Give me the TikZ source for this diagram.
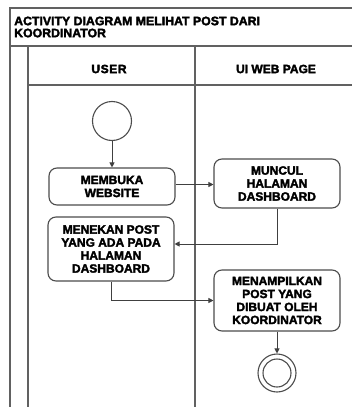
\documentclass[tikz,border=0pt]{standalone}
\usepackage{fontspec}
\setmainfont{Liberation Sans}
\newfontfamily\heavy{Liberation Sans}[UprightFont=*-Bold, UprightFeatures={FakeBold=2.5}]
\usetikzlibrary{arrows.meta}

\tikzset{
  frameline/.style={draw=black!62, line width=1.3pt},
  action/.style={draw=black!70, line width=1.1pt, rounded corners=8pt, fill=white,
    minimum width=126pt, inner sep=0pt, align=center,
    font=\heavy\fontsize{12}{13}\selectfont},
  lanehead/.style={font=\heavy\fontsize{12}{13}\selectfont},
  flow/.style={draw=black!75, line width=1pt, -{Triangle[length=5pt,width=5pt]}},
  startnode/.style={circle, draw=black!70, line width=1.1pt, minimum size=39pt, inner sep=0pt},
  endring/.style={circle, draw=black!70, line width=1.1pt, inner sep=0pt},
}

\begin{document}
\begin{tikzpicture}[x=1pt, y=-1pt]
  \useasboundingbox[fill=white] (0,0) rectangle (352,407);

  % swimlane frame
  \draw[frameline] (352,8) -- (10,8) -- (10,407);
  \draw[frameline] (10,46) -- (352,46);
  \draw[frameline] (28,46) -- (28,407);
  \draw[frameline] (195,46) -- (195,407);
  \draw[frameline] (28,85) -- (352,85);

  % title and lane headers
  \node[anchor=west, align=left, inner sep=0pt,
        font=\heavy\fontsize{12.3}{12}\selectfont] (title) at (14,27)
        {ACTIVITY DIAGRAM MELIHAT POST DARI\\KOORDINATOR};
  \node[lanehead] (huser) at (109,69) {U\kern0.6pt S\kern0.6pt E\kern0.6pt R};
  \node[lanehead] (hui) at (276,69) {UI WEB PAGE};

  % start node
  \node[startnode] (start) at (112,121) {};

  % actions
  \node[action, minimum height=37pt] (membuka) at (112,186.5) {MEMBUKA\\WEBSITE};
  \node[action, minimum height=49pt] (muncul) at (277,183.5) {MUNCUL\\HALAMAN\\DASHBOARD};
  \node[action, minimum height=64pt] (menekan) at (111,249) {MENEKAN POST\\YANG ADA PADA\\HALAMAN\\DASHBOARD};
  \node[action, minimum height=61pt] (tampil) at (277,300.5) {MENAMPILKAN\\POST YANG\\DIBUAT OLEH\\KOORDINATOR};

  % end node
  \node[endring, minimum size=38pt] (stop) at (277,373) {};
  \node[endring, minimum size=28pt] (stopin) at (stop.center) {};

  % control flow
  \draw[flow] (start.south) -- (membuka.north);
  \draw[flow] ([yshift=2pt]membuka.east) -- ([yshift=2pt]membuka.east -| muncul.west);
  \draw[flow] (muncul.south) |- ([yshift=5pt]menekan.east);
  \draw[flow] (menekan.south) |- (tampil.west);
  \draw[flow] (tampil.south) -- (stop.north);
\end{tikzpicture}
\end{document}
